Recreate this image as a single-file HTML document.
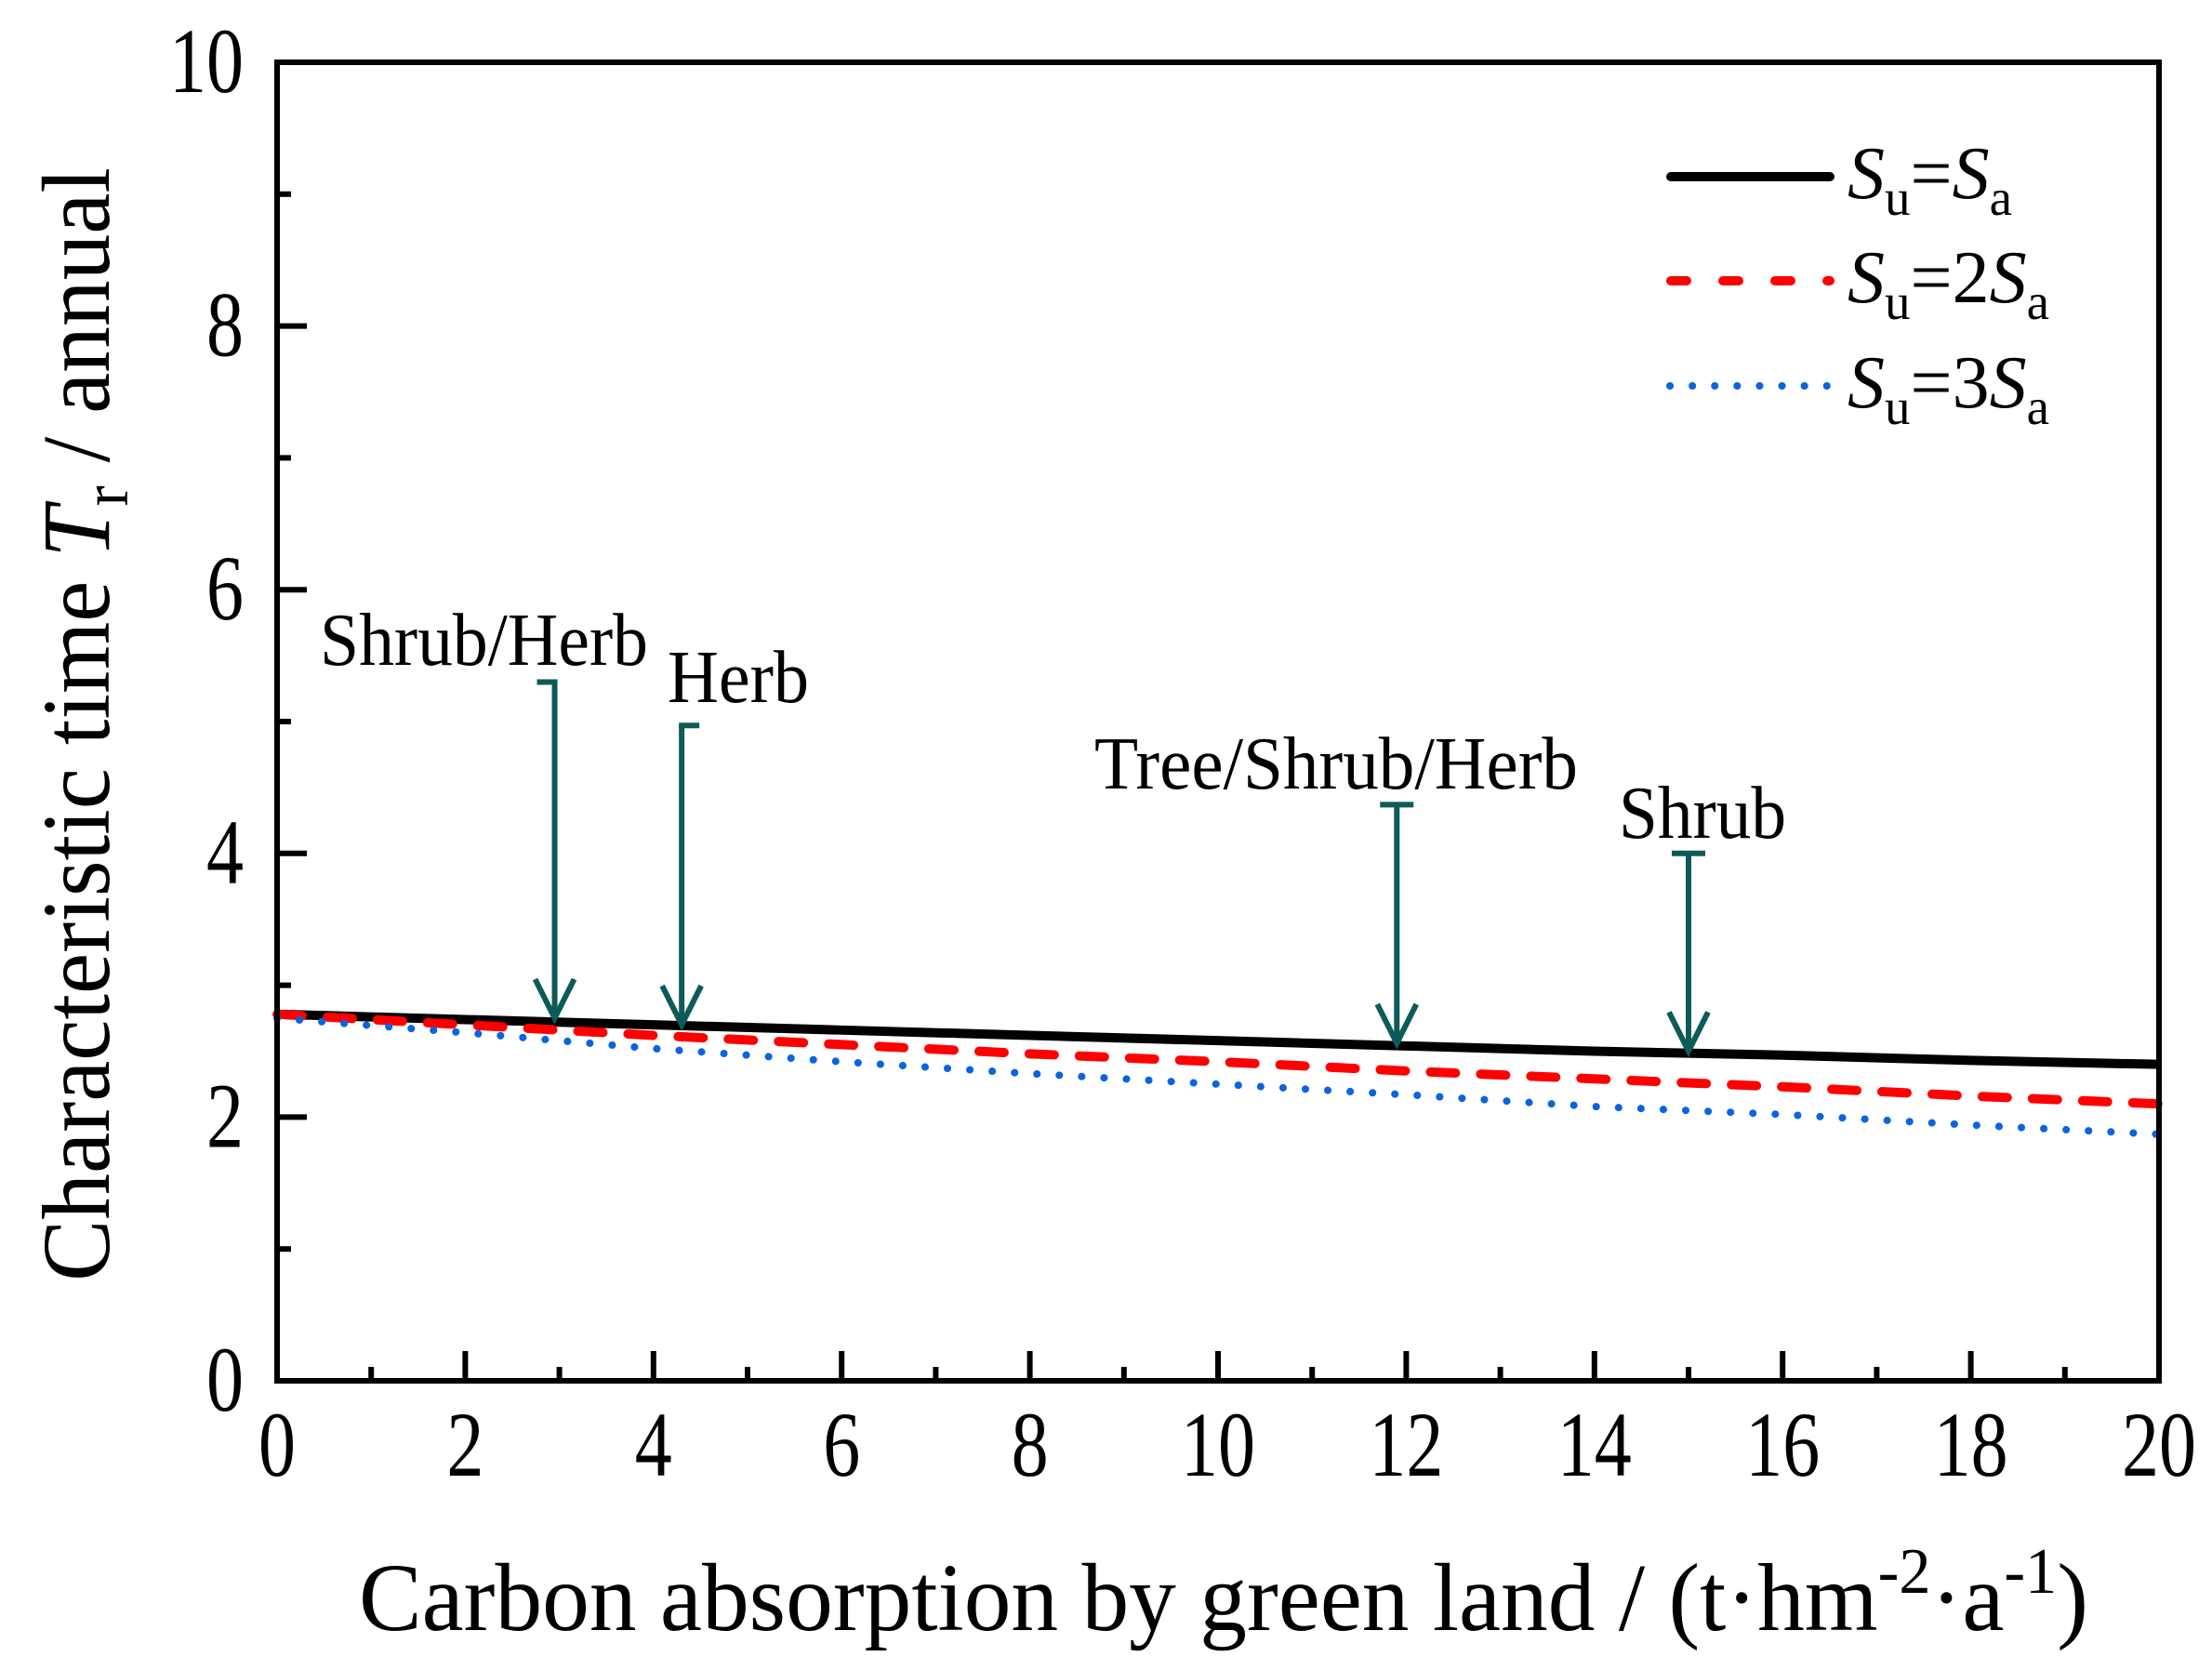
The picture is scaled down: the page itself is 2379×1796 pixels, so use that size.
<!DOCTYPE html>
<html><head><meta charset="utf-8">
<style>
html,body{margin:0;padding:0;background:#fff;}
svg{display:block;font-family:"Liberation Serif",serif;}
</style></head>
<body>
<svg id="chart" width="2379" height="1796" viewBox="0 0 2379 1796" xmlns="http://www.w3.org/2000/svg">
<rect x="0" y="0" width="2379" height="1796" fill="#fff"/>
<g id="plot"></g>
</svg>
<script>
const xValues = [0,2,4,6,8,10,12,14,16,18,20];
const seriesSolid = [2.78,2.74,2.70,2.66,2.62,2.58,2.54,2.50,2.47,2.43,2.40];
const seriesDashed = [2.78,2.70,2.62,2.55,2.48,2.42,2.35,2.29,2.23,2.16,2.10];
const seriesDotted = [2.75,2.64,2.52,2.42,2.33,2.25,2.17,2.08,2.02,1.94,1.87];
const xTickLabels = ["0","2","4","6","8","10","12","14","16","18","20"];
const yTickLabels = ["0","2","4","6","8","10"];
const annoLabels = ["Shrub/Herb","Herb","Tree/Shrub/Herb","Shrub"];
const annoX = [2.95,4.3,11.9,15.0];
const annoTop = [5.3,4.97,4.37,4.0];
const annoTip = [2.75,2.7,2.56,2.5];

const L=298,R=2322,T=67,B=1485;
const sx=v=>L+(v-0)/20*(R-L);
const sy=v=>B-(v-0)/10*(B-T);
const NS="http://www.w3.org/2000/svg";
const g=document.getElementById('plot');
function mk(tag,attrs,parent){const e=document.createElementNS(NS,tag);for(const k in attrs)e.setAttribute(k,attrs[k]);(parent||g).appendChild(e);return e;}

for(let i=0;i<=20;i++){
  const len=(i%2===0)?32:15;
  const t=mk('line',{x1:sx(i),x2:sx(i),y1:B,y2:B-len,stroke:'#000','stroke-width':6});
  
  
}
for(let i=0;i<=10;i++){
  const len=(i%2===0)?32:15;
  const t=mk('line',{x1:L,x2:L+len,y1:sy(i),y2:sy(i),stroke:'#000','stroke-width':6});
  
  
}
xTickLabels.forEach((s,i)=>{
  const t=mk('text',{x:sx(+s),y:1587,'font-size':100,'text-anchor':'middle',textLength:40*s.length,lengthAdjust:'spacingAndGlyphs'});
  t.textContent=s;
  
  
});
yTickLabels.forEach((s,i)=>{
  const t=mk('text',{x:262,y:sy(+s)+32,'font-size':100,'text-anchor':'end',textLength:40*s.length,lengthAdjust:'spacingAndGlyphs'});
  t.textContent=s;
  
  
});

function pts(arr){return xValues.map((x,i)=>sx(x)+','+sy(arr[i])).join(' ');}
const l1=mk('polyline',{points:pts(seriesSolid),fill:'none',stroke:'#000','stroke-width':10});


const l2=mk('polyline',{points:pts(seriesDashed),fill:'none',stroke:'#f00','stroke-width':10,'stroke-dasharray':'27 27','stroke-linecap':'round'});


const l3=mk('polyline',{points:pts(seriesDotted),fill:'none',stroke:'#0a64e0','stroke-width':8,'stroke-dasharray':'0.1 24','stroke-linecap':'round'});



const capDir=[-1,1,0,0];
annoLabels.forEach((lab,i)=>{
  const x=sx(annoX[i]),yt=sy(annoTop[i]),yb=sy(annoTip[i]);
  const grp=mk('g',{stroke:'#0d5b58','stroke-width':6,fill:'none'});
  
  
  mk('line',{x1:x,x2:x,y1:yt,y2:yb},grp);
  let cx1=x-18,cx2=x+18;
  if(capDir[i]<0){cx1=x-19;cx2=x+3;} else if(capDir[i]>0){cx1=x-3;cx2=x+19;}
  mk('line',{x1:cx1,x2:cx2,y1:yt,y2:yt},grp);
  mk('polyline',{points:(x-21)+','+(yb-42)+' '+x+','+yb+' '+(x+21)+','+(yb-42)},grp);
});
const textPos=[[344,715,353],[718,755,152],[1177,848,520],[1741,901,180]];
annoLabels.forEach((lab,i)=>{
  const p=textPos[i];
  const t=mk('text',{x:p[0],y:p[1],'font-size':80,textLength:p[2],lengthAdjust:'spacingAndGlyphs'});
  t.textContent=lab;
  
  
});

const fr=mk('rect',{x:L,y:T,width:R-L,height:B-T,fill:'none',stroke:'#000','stroke-width':6});


</script>
<svg style="position:absolute;left:0;top:0" width="2379" height="1796">
<g font-family="Liberation Serif, serif">
 <g>
  <line x1="1797" x2="1968" y1="190" y2="190" stroke="#000" stroke-width="10" stroke-linecap="round"/>
  <text x="1987" y="213" font-size="80"><tspan font-style="italic">S</tspan><tspan font-size="55" dy="18">u</tspan><tspan dy="-18">=</tspan><tspan font-style="italic">S</tspan><tspan font-size="55" dy="18">a</tspan></text>
 </g>
 <g>
  <line x1="1797" x2="1968" y1="302" y2="302" stroke="#f00" stroke-width="10" stroke-linecap="round" stroke-dasharray="17 39"/>
  <text x="1987" y="325" font-size="80"><tspan font-style="italic">S</tspan><tspan font-size="55" dy="18">u</tspan><tspan dy="-18">=2</tspan><tspan font-style="italic">S</tspan><tspan font-size="55" dy="18">a</tspan></text>
 </g>
 <g>
  <line x1="1796" x2="1970" y1="415" y2="415" stroke="#0a64e0" stroke-width="8" stroke-linecap="round" stroke-dasharray="0.1 24"/>
  <text x="1987" y="438" font-size="80"><tspan font-style="italic">S</tspan><tspan font-size="55" dy="18">u</tspan><tspan dy="-18">=3</tspan><tspan font-style="italic">S</tspan><tspan font-size="55" dy="18">a</tspan></text>
 </g>
</g>
<text x="386" y="1753" font-size="104" textLength="1860" lengthAdjust="spacingAndGlyphs" font-family="Liberation Serif, serif">Carbon absorption by green land / (t·hm<tspan font-size="70" dy="-40">-2</tspan><tspan dy="40">·a</tspan><tspan font-size="70" dy="-40">-1</tspan><tspan dy="40">)</tspan></text>
<text transform="translate(117,1378) rotate(-90)" x="0" y="0" font-size="104" textLength="1198" lengthAdjust="spacingAndGlyphs" font-family="Liberation Serif, serif">Characteristic time <tspan font-style="italic">T</tspan><tspan font-size="70" dy="20">r</tspan><tspan dy="-20"> / annual</tspan></text>
</svg>
</body></html>
